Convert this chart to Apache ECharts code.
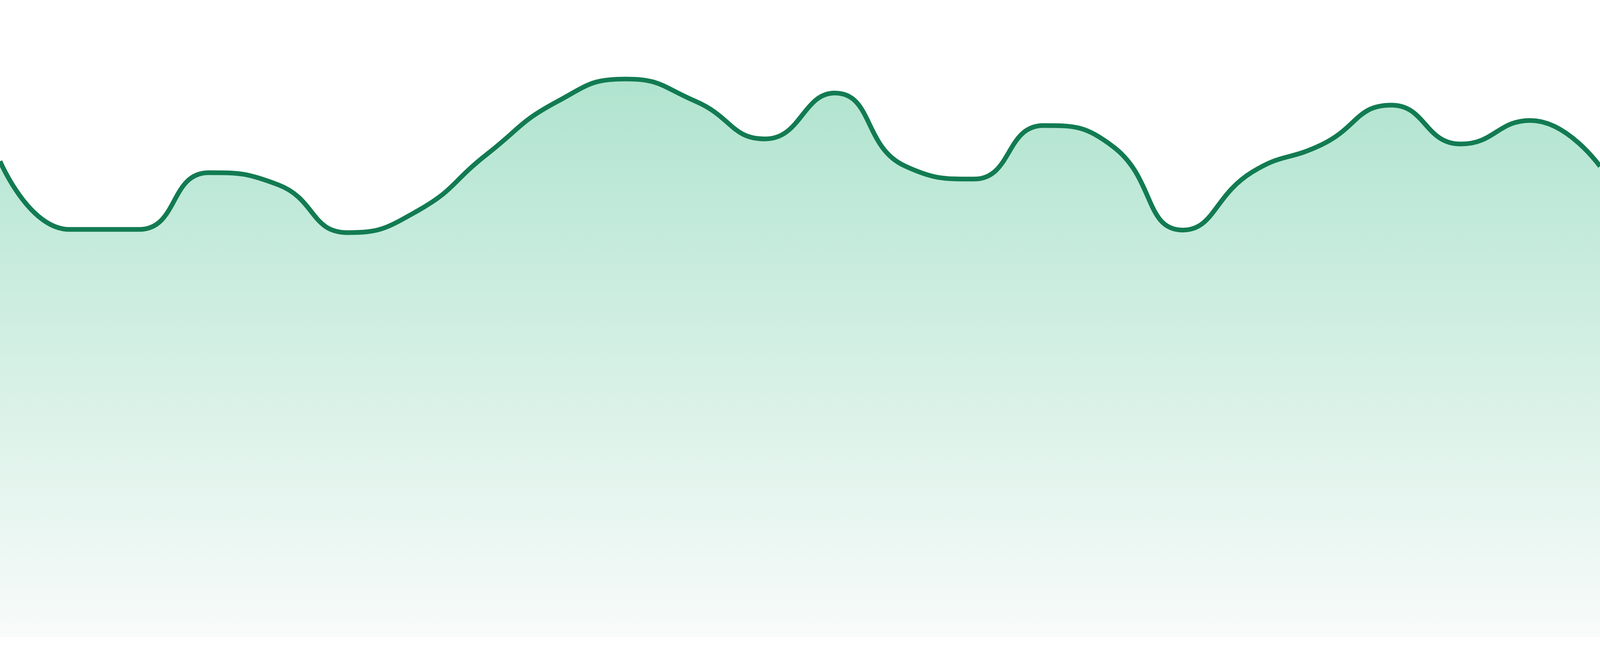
<!DOCTYPE html>
<html>

<head>
    <meta charset="utf-8">
    <title>Area</title>
    <script src="https://cdn.jsdelivr.net/npm/echarts@6/dist/echarts.min.js"></script>
    <style>
        html, body { margin: 0; padding: 0; width: 100%; height: 100%; overflow: hidden; background: #ffffff; }
        #main { width: 100%; height: 100%; }
    </style>
</head>

<body>
    <div id="main"></div>

    <script type="text/javascript">
        // categories: one per point, no labels shown
        var categories = ['1', '2', '3', '4', '5', '6', '7', '8', '9', '10', '11', '12',
            '13', '14', '15', '16', '17', '18', '19', '20', '21', '22', '23', '24'];

        // values (0 = bottom of the fill, 100 = top of the page)
        var values = [74.7, 64.0, 64.0, 72.9, 71.0, 63.5, 66.9, 75.8, 84.0, 87.6, 84.1, 78.2,
            85.4, 74.0, 71.9, 80.3, 77.0, 63.9, 73.0, 77.3, 83.5, 77.4, 81.1, 73.9];

        var lineColor = '#127b52';
        var fillTop = '#b0e4cf';
        var fillBottom = '#f8fbfa';

        var chartDom = document.getElementById('main');
        // the reference was drawn 4800px wide; scale the stroke to the real width
        var k = chartDom.clientWidth / 4800;

        var myChart = echarts.init(chartDom, null, {
            renderer: 'canvas'
        });

        var option = {
            animation: false,
            grid: {
                left: 0,
                right: 0,
                top: 0,
                bottom: '2.857%'
            },
            xAxis: {
                type: 'category',
                data: categories,
                boundaryGap: false,
                show: false
            },
            yAxis: {
                type: 'value',
                min: 0,
                max: 100,
                show: false
            },
            series: [{
                type: 'line',
                data: values,
                smooth: true,
                showSymbol: false,
                symbol: 'none',
                lineStyle: {
                    color: lineColor,
                    width: 14 * k
                },
                areaStyle: {
                    opacity: 1, // default is 0.7, too pale
                    color: new echarts.graphic.LinearGradient(0, 0, 0, 1, [
                        { offset: 0, color: fillTop },
                        { offset: 1, color: fillBottom }
                    ])
                }
            }]
        };

        myChart.setOption(option);
    </script>
</body>

</html>
